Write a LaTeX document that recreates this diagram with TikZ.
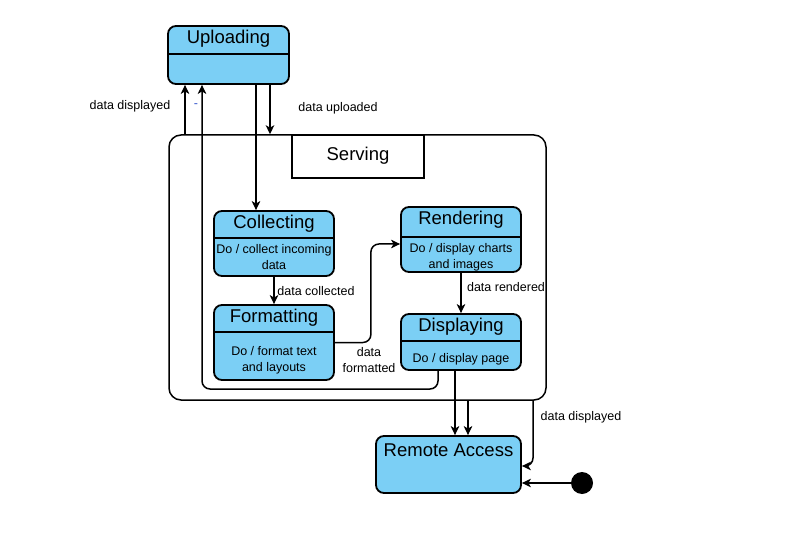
\documentclass[tikz,border=0pt]{standalone}
\usepackage{fontspec}
\setmainfont{Liberation Sans}
\usetikzlibrary{arrows.meta,calc}
\definecolor{stateblue}{HTML}{7BCFF5}
\definecolor{dashblue}{HTML}{3355CC}
\tikzset{
  statebox/.style={draw, fill=stateblue, rounded corners=8pt, line width=1.8pt, inner sep=0pt},
  divline/.style={line width=1.8pt},
  ttl/.style={font=\fontsize{18.5}{20}\selectfont, inner sep=0pt},
  body/.style={font=\fontsize{12.5}{15.8}\selectfont, align=center, inner sep=0pt},
  lbl/.style={font=\fontsize{12.5}{15.8}\selectfont, align=center, inner sep=0pt},
  arr/.style={line width=1.5pt, -{Stealth[length=9pt,width=8.5pt,inset=2.5pt]}},
}
\begin{document}
\begin{tikzpicture}[x=1pt,y=-1pt]
\useasboundingbox (0,0) rectangle (792,537);
% Serving composite state
\node[draw, rounded corners=12pt, line width=1.5pt, minimum width=377pt, minimum height=265pt, inner sep=0pt] (S) at (357.5,267.5) {};
\node[draw, line width=1.3pt, minimum width=132pt, minimum height=43pt, inner sep=0pt] (Sl) at (358,156.5) {};
\node[ttl] (St) at (358,156) {Serving};
% Uploading
\node[statebox, minimum width=121pt, minimum height=58pt] (U) at (228.5,55) {};
\draw[divline] ($(U.north west)+(0,29)$) -- ($(U.north east)+(0,29)$);
\node[ttl] (Ut) at (228.5,39) {Uploading};
% Collecting
\node[statebox, minimum width=120pt, minimum height=65pt] (C) at (274,243.5) {};
\draw[divline] ($(C.north west)+(0,28)$) -- ($(C.north east)+(0,28)$);
\node[ttl] (Ct) at (274,224) {Collecting};
\node[body] (Cb) at (274,257) {Do / collect incoming\\data};
% Formatting
\node[statebox, minimum width=120pt, minimum height=75pt] (F) at (274,342.5) {};
\draw[divline] ($(F.north west)+(0,28)$) -- ($(F.north east)+(0,28)$);
\node[ttl] (Ft) at (274,318) {Formatting};
\node[body] (Fb) at (274,360) {Do / format text\\and layouts};
% Rendering
\node[statebox, minimum width=120pt, minimum height=65pt] (R) at (461,239.5) {};
\draw[divline] ($(R.north west)+(0,31)$) -- ($(R.north east)+(0,31)$);
\node[ttl] (Rt) at (461,220) {Rendering};
\node[body] (Rb) at (461,257) {Do / display charts\\and images};
% Displaying
\node[statebox, minimum width=120pt, minimum height=56pt] (D) at (461,342) {};
\draw[divline] ($(D.north west)+(0,28)$) -- ($(D.north east)+(0,28)$);
\node[ttl] (Dt) at (461,327) {Displaying};
\node[body] (Db) at (461,359) {Do / display page};
% Remote Access
\node[statebox, minimum width=145pt, minimum height=57pt] (RA) at (448.5,464.5) {};
\node[ttl] (RAt) at (448.5,450) {Remote Access};
% initial state
\node[circle, fill=black, minimum size=22pt, inner sep=0pt] (init) at (582,483) {};
% helper coordinates
\coordinate (c185) at (185,0);
\coordinate (c202) at (202,389);
\coordinate (c256) at (256,0);
\coordinate (c270) at (270,0);
\coordinate (c438) at (438,0);
\coordinate (c455) at (455,0);
\coordinate (c468) at (468,0);
\coordinate (c533) at (533,0);
% connectors
\draw[arr] (S.north -| c185) -- (U.south -| c185);
\draw[arr, rounded corners=8pt] (D.south -| c438) |- (c202) -- (U.south -| c202);
\draw[arr] (U.south -| c256) -- (C.north -| c256);
\draw[arr] (U.south -| c270) -- (S.north -| c270);
\draw[arr] (C) -- (F);
\draw[arr, rounded corners=8pt] (F.east) -- ++(36,0) |- ([yshift=-4.5pt]R.west);
\draw[arr] (R) -- (D);
\draw[arr] (D.south -| c455) -- (RA.north -| c455);
\draw[arr] (S.south -| c468) -- (RA.north -| c468);
\draw[arr, rounded corners=8pt] (S.south -| c533) |- ([yshift=-1.5pt]RA.east);
\draw[arr] (init) -- (RA.east |- init);
% labels
\node[lbl] (l1) at (130,106) {data displayed};
\node[lbl, text=dashblue] (l2) at (196,106) {-};
\node[lbl] (l3) at (338,108) {data uploaded};
\node[lbl] (l4) at (316,291) {data collected};
\node[lbl] (l5) at (506,287) {data rendered};
\node[lbl] (l6) at (369,360) {data\\formatted};
\node[lbl] (l7) at (581,417) {data displayed};
\end{tikzpicture}
\end{document}
